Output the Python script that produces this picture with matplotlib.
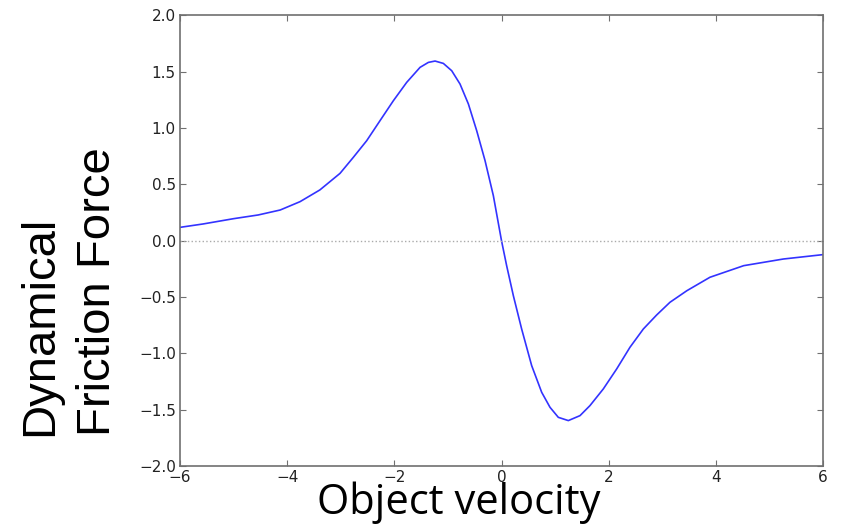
import matplotlib
matplotlib.use("Agg")
import matplotlib.pyplot as plt

# Data
velocity = [-6.0, -5.57, -5.0, -4.54, -4.13, -3.76, -3.39, -3.014, -2.766, -2.516,
            -2.267, -2.018, -1.769, -1.52, -1.365, -1.24, -1.085, -0.929, -0.774, -0.618,
            -0.463, -0.307, -0.152, 0.0, 0.096, 0.221, 0.376, 0.563, 0.75, 0.905,
            1.06, 1.247, 1.465, 1.651, 1.9, 2.149, 2.398, 2.647, 2.895, 3.144,
            3.46, 3.89, 4.52, 5.26, 6.0]
force = [0.118, 0.148, 0.195, 0.228, 0.272, 0.346, 0.45, 0.597, 0.739, 0.887,
         1.065, 1.242, 1.405, 1.538, 1.582, 1.594, 1.573, 1.508, 1.39, 1.213,
         0.976, 0.71, 0.399, 0.0, -0.222, -0.488, -0.784, -1.109, -1.346, -1.479,
         -1.568, -1.597, -1.553, -1.464, -1.316, -1.139, -0.946, -0.784, -0.66, -0.547,
         -0.444, -0.325, -0.222, -0.163, -0.124]

xticks = [-6, -4, -2, 0, 2, 4, 6]
yticks = [-2.0, -1.5, -1.0, -0.5, 0.0, 0.5, 1.0, 1.5, 2.0]

fig = plt.figure(figsize=(8.43, 5.25), dpi=100)
ax = fig.add_axes([180/843, 1 - 466/525, (823 - 180)/843, (466 - 15.3)/525])

ax.plot(velocity, force, color='#3333ff', lw=1.2, solid_joinstyle='round')
ax.axhline(0, color='#aaaaaa', lw=1, ls=':')

ax.set_xlim(-6, 6)
ax.set_ylim(-2, 2)
ax.set_xticks(xticks)
ax.set_yticks(yticks)
ax.set_yticklabels([f"{v:.1f}".replace('-', '\u2212') for v in yticks])
ax.set_xticklabels([str(v).replace('-', '\u2212') for v in xticks])

for s in ax.spines.values():
    s.set_color('#707070')
    s.set_linewidth(1.2)
ax.tick_params(direction='in', top=True, right=True, length=4, width=0.8,
               color='#707070', labelsize=11, labelcolor='#222222', pad=3)

fig.text(0.544, 0.002, "Object velocity", ha='center', va='bottom',
         fontsize=30, family=['Open Sans', 'DejaVu Sans'])
fig.text(0.082, 0.444, "Dynamical\nFriction Force", rotation=90, ha='center', va='center',
         fontsize=34, family=['Liberation Sans', 'DejaVu Sans'], linespacing=1.4,
         multialignment='left')

fig.savefig("out.png", dpi=100)
